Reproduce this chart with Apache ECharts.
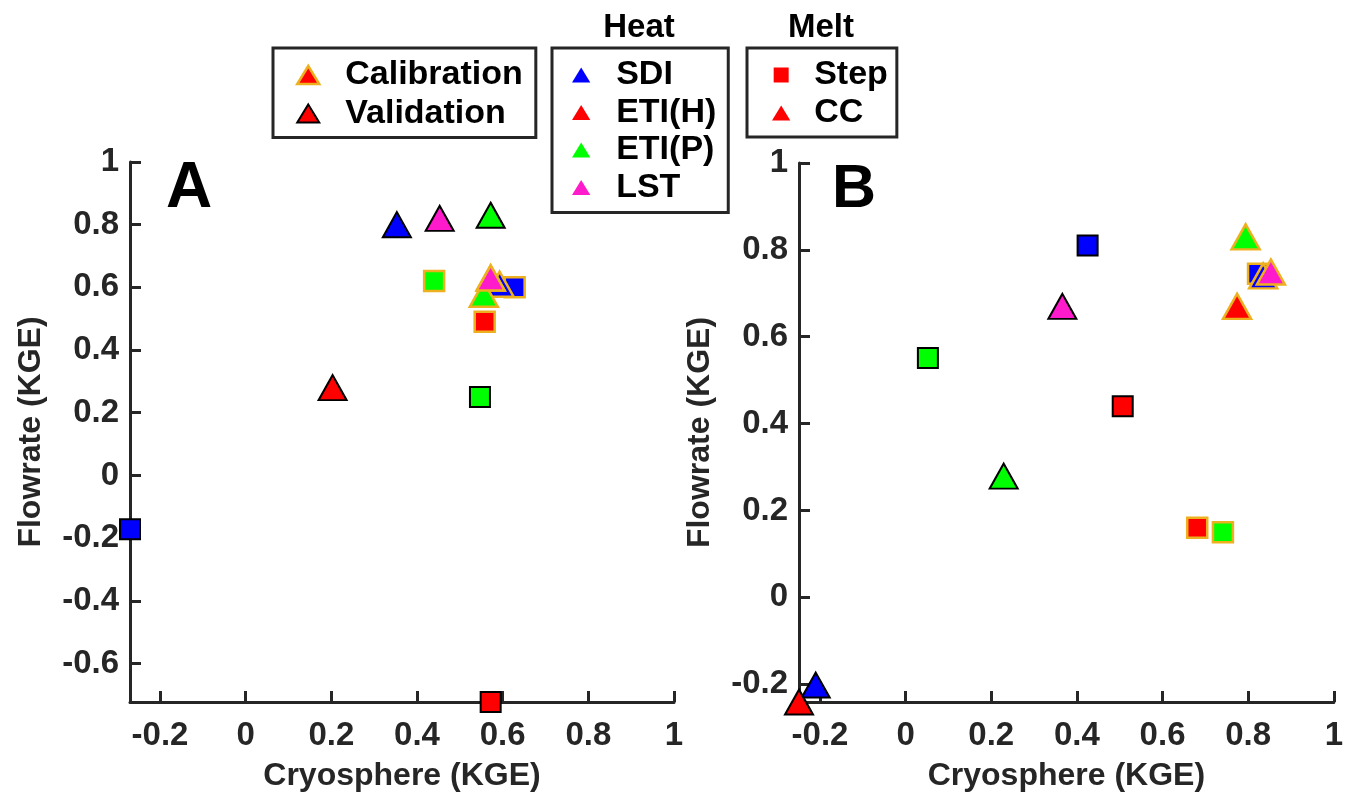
<!DOCTYPE html>
<html>
<head>
<meta charset="utf-8">
<script src="https://cdn.jsdelivr.net/npm/echarts@6/dist/echarts.min.js"></script>
<style>
  html, body { margin: 0; padding: 0; background: #fff; }
  #chart { width: 1346px; height: 797px; }
</style>
</head>
<body>
<div id="chart"></div>
<script>
// ---------- DATA ----------
const heatModels = ['SDI', 'ETI(H)', 'ETI(P)', 'LST'];
const meltModels = ['Step', 'CC'];
const setNames = ['Calibration', 'Validation'];
const xTitle = 'Cryosphere (KGE)';
const yTitle = 'Flowrate (KGE)';
const panelLabels = ['A', 'B'];

// [x, y] per heat model (SDI, ETI(H), ETI(P), LST); null = not present
// Panel A
const aStepCal = [[0.628, 0.60], [0.558, 0.49], [0.44, 0.62], null];
const aStepVal = [[-0.27, -0.172], [0.572, -0.723], [0.547, 0.25], null];
const aCcCal   = [[0.593, 0.61], [0.572, 0.63], [0.556, 0.578], [0.572, 0.63]];
const aCcVal   = [[0.353, 0.80], [0.203, 0.28], [0.572, 0.83], [0.453, 0.82]];
// Panel B
const bStepCal = [[0.823, 0.745], [0.681, 0.16], [0.741, 0.15], null];
const bStepVal = [[0.425, 0.81], [0.507, 0.44], [0.052, 0.551], null];
const bCcCal   = [[0.835, 0.74], [0.774, 0.67], [0.794, 0.83], [0.853, 0.749]];
const bCcVal   = [[-0.21, -0.202], [-0.249, -0.241], [0.229, 0.279], [0.366, 0.67]];

// ---------- STYLES ----------
const heatColors = ['#0000FF', '#FF0000', '#00FF00', '#FF1ACC'];
const calEdge = '#EDB120';
const valEdge = '#000000';
const axisColor = '#262626';
const FONT = "'Liberation Sans', Arial, Helvetica, sans-serif";
const triPath = 'path://M11,0L22,18L0,18Z';
const sqPath = 'path://M0,0L16,0L16,16L0,16Z';

function groupSeries(panel, pts, melt, isCal) {
  const data = [];
  pts.forEach((p, i) => {
    if (p) data.push({ value: p, itemStyle: { color: heatColors[i] } });
  });
  return {
    type: 'scatter',
    name: panel + ' ' + melt + ' ' + (isCal ? 'Calibration' : 'Validation'),
    xAxisIndex: panel === 'A' ? 0 : 1,
    yAxisIndex: panel === 'A' ? 0 : 1,
    symbol: melt === 'Step' ? 'rect' : 'triangle',
    symbolSize: melt === 'Step' ? 20 : [28, 25],
    clip: false,
    silent: true,
    itemStyle: { borderColor: isCal ? calEdge : valEdge, borderWidth: isCal ? 2.5 : 2, opacity: 1 },
    emphasis: { disabled: true },
    data: data,
    z: 3
  };
}

const series = [
  groupSeries('A', aStepVal, 'Step', false),
  groupSeries('A', aStepCal, 'Step', true),
  groupSeries('A', aCcVal, 'CC', false),
  groupSeries('A', aCcCal, 'CC', true),
  groupSeries('B', bStepVal, 'Step', false),
  groupSeries('B', bStepCal, 'Step', true),
  groupSeries('B', bCcVal, 'CC', false),
  groupSeries('B', bCcCal, 'CC', true)
];
// legend-only series (no data)
[...setNames, ...heatModels, ...meltModels].forEach(n => {
  series.push({ type: 'scatter', name: n, xAxisIndex: 0, yAxisIndex: 0, data: [] });
});

function xAxisDef(gridIndex) {
  return {
    type: 'value', gridIndex: gridIndex,
    min: 'dataMin', max: 1,
    splitNumber: 7, minInterval: 0.2, maxInterval: 0.2,
    name: xTitle, nameLocation: 'middle', nameGap: 58,
    nameTextStyle: { fontSize: 32, fontWeight: 'bold', color: axisColor, fontFamily: FONT },
    axisLine: { show: true, onZero: false, lineStyle: { color: axisColor, width: 3 } },
    axisTick: { show: true, inside: true, length: 11, lineStyle: { color: axisColor, width: 3 } },
    axisLabel: { show: true, showMinLabel: false, showMaxLabel: true, margin: 17,
      fontSize: 33, fontWeight: 'bold', color: axisColor, fontFamily: FONT },
    splitLine: { show: false }
  };
}
function yAxisDef(gridIndex) {
  return {
    type: 'value', gridIndex: gridIndex,
    min: 'dataMin', max: 1,
    splitNumber: 9, minInterval: 0.2, maxInterval: 0.2,
    name: yTitle, nameLocation: 'middle', nameGap: 83,
    nameTextStyle: { fontSize: 32, fontWeight: 'bold', color: axisColor, fontFamily: FONT },
    axisLine: { show: true, onZero: false, lineStyle: { color: axisColor, width: 3 } },
    axisTick: { show: true, inside: true, length: 11, lineStyle: { color: axisColor, width: 3 } },
    axisLabel: { show: true, showMinLabel: false, showMaxLabel: true, margin: 11,
      fontSize: 33, fontWeight: 'bold', color: axisColor, fontFamily: FONT },
    splitLine: { show: false }
  };
}

const legendText = { fontSize: 34, fontWeight: 'bold', color: '#000', lineHeight: 34, fontFamily: FONT };
const legendBase = {
  orient: 'vertical', selectedMode: false, borderColor: axisColor, borderWidth: 3,
  backgroundColor: '#fff', textStyle: legendText, itemStyle: { opacity: 1 }
};

const option = {
  animation: false,
  backgroundColor: '#fff',
  grid: [
    { left: 130, right: 672, top: 162, bottom: 94, containLabel: false },
    { left: 799, right: 5, top: 163, bottom: 94, containLabel: false }
  ],
  xAxis: [xAxisDef(0), xAxisDef(1)],
  yAxis: [yAxisDef(0), yAxisDef(1)],
  legend: [
    Object.assign({}, legendBase, {
      left: 273, top: 48, itemWidth: 64, itemHeight: 18, itemGap: 4.5, padding: [10, 13, 7, 23],
      data: [
        { name: setNames[0], icon: triPath, itemStyle: { color: '#FF0000', borderColor: calEdge, borderWidth: 2.5 } },
        { name: setNames[1], icon: triPath, itemStyle: { color: '#FF0000', borderColor: valEdge, borderWidth: 2 } }
      ]
    }),
    Object.assign({}, legendBase, {
      left: 552, top: 48, itemWidth: 60, itemHeight: 15, itemGap: 3.5, padding: [10, 12, 8, 20],
      data: heatModels.map((n, i) => ({ name: n, icon: triPath, itemStyle: { color: heatColors[i], borderWidth: 0 } }))
    }),
    Object.assign({}, legendBase, {
      left: 747, top: 48, itemWidth: 56, itemHeight: 15, itemGap: 4, padding: [10, 9, 7, 25],
      data: [
        { name: meltModels[0], icon: sqPath, itemStyle: { color: '#FF0000', borderWidth: 0 } },
        { name: meltModels[1], icon: triPath, itemStyle: { color: '#FF0000', borderWidth: 0 } }
      ]
    })
  ],
  graphic: [
    { type: 'text', left: 166, top: 157, style: { text: panelLabels[0], font: "bold 64px " + FONT, fill: '#000' } },
    { type: 'text', left: 832, top: 160, style: { text: panelLabels[1], font: "bold 61px " + FONT, fill: '#000' } },
    { type: 'text', x: 639, y: 28, style: { text: 'Heat', font: "bold 33px " + FONT, fill: '#000', textAlign: 'center', textVerticalAlign: 'middle' } },
    { type: 'text', x: 821, y: 28, style: { text: 'Melt', font: "bold 33px " + FONT, fill: '#000', textAlign: 'center', textVerticalAlign: 'middle' } }
  ],
  series: series
};

const chart = echarts.init(document.getElementById('chart'), null, { renderer: 'canvas' });
chart.setOption(option);
</script>
</body>
</html>
